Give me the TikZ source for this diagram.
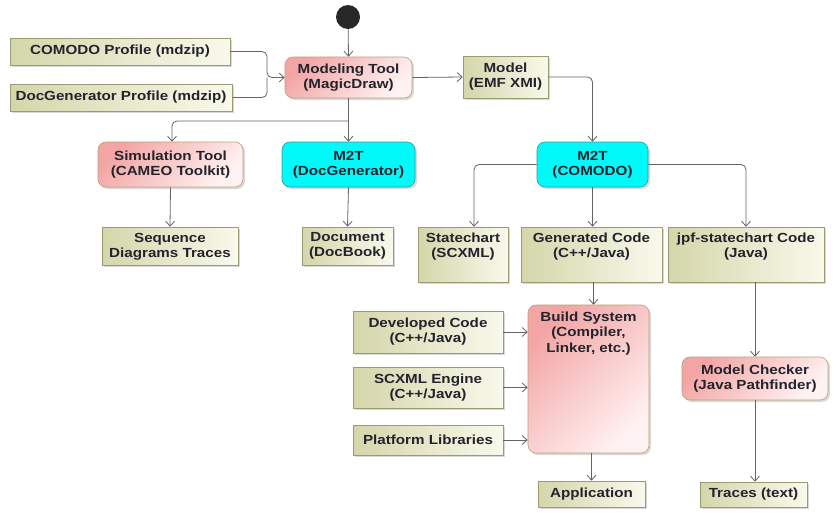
\documentclass[tikz,border=0pt]{standalone}
\usepackage{fontspec}
\setmainfont{Liberation Sans}[FakeStretch=1.15]
\usetikzlibrary{arrows.meta,shadows}
\definecolor{prodL}{RGB}{212,214,170}
\definecolor{prodR}{RGB}{249,249,236}
\definecolor{prodB}{RGB}{155,155,115}
\definecolor{pinkL}{RGB}{243,165,165}
\definecolor{pinkR}{RGB}{255,242,242}
\definecolor{pinkB}{RGB}{185,160,120}
\definecolor{cyanF}{RGB}{0,250,250}
\definecolor{cyanB}{RGB}{60,150,150}
\definecolor{lineC}{RGB}{100,100,100}
\definecolor{txtC}{RGB}{35,35,45}
\definecolor{initC}{RGB}{40,40,40}
\begin{document}
\begin{tikzpicture}[x=1pt,y=-1pt,
  base/.style={draw, line width=0.6pt, drop shadow={shadow xshift=2pt,shadow yshift=-2pt,opacity=0.3}},
  prod/.style={base, draw=prodB, left color=prodL, right color=prodR, inner sep=0pt},
  act/.style={base, rounded corners=8pt, draw=pinkB, top color=pinkL, bottom color=pinkR, shading angle=45, inner sep=0pt},
  mtt/.style={base, rounded corners=8pt, draw=cyanB, fill=cyanF, inner sep=0pt},
  txt/.style={font=\fontsize{13.2}{15}\selectfont\bfseries, text=txtC, align=center},
  toptxt/.style={txt, anchor=north, inner sep=1pt},
  conn/.style={draw=lineC, line width=0.8pt, rounded corners=5pt, -{Straight Barb[length=5pt,width=9pt]}},
  plain/.style={draw=lineC, line width=0.8pt, rounded corners=5pt}
]
\useasboundingbox (0,0) rectangle (838,512);

% initial node
\node[circle, fill=initC, minimum size=24pt, inner sep=0pt] (init) at (348,17) {};

% profiles
\node[prod, txt, minimum width=220pt, minimum height=27pt] (comodo) at (120,51.5) {COMODO Profile (mdzip)};
\node[prod, txt, minimum width=222pt, minimum height=27pt] (docgen) at (121,97.5) {DocGenerator Profile (mdzip)};

% modeling tool
\node[act, txt, minimum width=127pt, minimum height=41pt] (modeling) at (348.5,77.5) {Modeling Tool\\(MagicDraw)};

% model
\node[prod, minimum width=85pt, minimum height=42pt] (model) at (505.5,77) {};
\node[toptxt] (model-t) at ([yshift=-6pt]model.north) {Model\\(EMF XMI)};

% second row
\node[act, txt, minimum width=145pt, minimum height=45pt] (sim) at (170.5,164.5) {Simulation Tool\\(CAMEO Toolkit)};
\node[mtt, txt, minimum width=133pt, minimum height=45pt] (m2tdoc) at (348.5,164.5) {M2T\\(DocGenerator)};
\node[mtt, txt, minimum width=111pt, minimum height=45pt] (m2tcom) at (592.5,164.5) {M2T\\(COMODO)};

% third row
\node[prod, minimum width=136pt, minimum height=38pt] (seq) at (170,246) {};
\node[toptxt] (seq-t) at ([yshift=-5pt]seq.north) {Sequence\\Diagrams Traces};
\node[prod, minimum width=91pt, minimum height=38pt] (docbook) at (347.5,246) {};
\node[toptxt] (docbook-t) at ([yshift=-5pt]docbook.north) {Document\\(DocBook)};
\node[prod, minimum width=90pt, minimum height=55pt] (statechart) at (463,254.5) {};
\node[toptxt] (statechart-t) at ([yshift=-5pt]statechart.north) {Statechart\\(SCXML)};
\node[prod, minimum width=141pt, minimum height=55pt] (gencode) at (591.5,254.5) {};
\node[toptxt] (gencode-t) at ([yshift=-5pt]gencode.north) {Generated Code\\(C++/Java)};
\node[prod, minimum width=156pt, minimum height=55pt] (jpf) at (746,254.5) {};
\node[toptxt] (jpf-t) at ([yshift=-5pt]jpf.north) {jpf-statechart Code\\(Java)};

% build area
\node[act, minimum width=121pt, minimum height=148pt] (build) at (588.5,379) {};
\node[toptxt, font=\fontsize{13.2}{15.5}\selectfont\bfseries] (build-t) at ([yshift=-6pt]build.north) {Build System\\(Compiler,\\Linker, etc.)};
\node[prod, txt, minimum width=150pt, minimum height=42pt] (devcode) at (428,332) {Developed Code\\(C++/Java)};
\node[prod, txt, minimum width=150pt, minimum height=41pt] (scxml) at (428,387.5) {SCXML Engine\\(C++/Java)};
\node[prod, txt, minimum width=150pt, minimum height=30pt] (platform) at (428,440) {Platform Libraries};
\node[prod, txt, minimum width=107pt, minimum height=26pt] (app) at (591.5,494) {Application};

% model checker
\node[act, txt, minimum width=146pt, minimum height=43pt] (checker) at (755,378.5) {Model Checker\\(Java Pathfinder)};
\node[prod, txt, minimum width=107pt, minimum height=25pt] (traces) at (753.5,494.5) {Traces (text)};

% connectors
\coordinate (j1) at (267,77.5);
\coordinate (j2) at (348,121);
\draw[conn] (init) -- (modeling.north);
\draw[conn] (comodo.east) -| (j1) -- (modeling.west);
\draw[plain] (docgen.east) -| (j1);
\draw[conn] (modeling.east) -- (model.west);
\draw[conn] (model.east) -| (m2tcom.north);
\draw[conn] (modeling.south) -- (m2tdoc.north);
\draw[conn] (j2) -| ([xshift=1.5pt]sim.north);
\draw[conn] (sim.south) -- (seq.north);
\draw[conn] (m2tdoc.south) -- (docbook.north);
\draw[conn] (m2tcom.west) -| ([xshift=11pt]statechart.north);
\draw[conn] (m2tcom.south) -- (m2tcom.south |- gencode.north);
\draw[conn] (m2tcom.east) -| (jpf.north);
\draw[conn] ([xshift=2pt]gencode.south) -- ([xshift=2pt]gencode.south |- build.north);
\draw[conn] (devcode.east) -- (devcode.east -| build.west);
\draw[conn] (scxml.east) -- (scxml.east -| build.west);
\draw[conn] (platform.east) -- (platform.east -| build.west);
\draw[conn] (app.north |- build.south) -- (app.north);
\draw[conn] (checker.north |- jpf.south) -- (checker.north);
\draw[conn] (checker.south) -- (checker.south |- traces.north);
\end{tikzpicture}
\end{document}
